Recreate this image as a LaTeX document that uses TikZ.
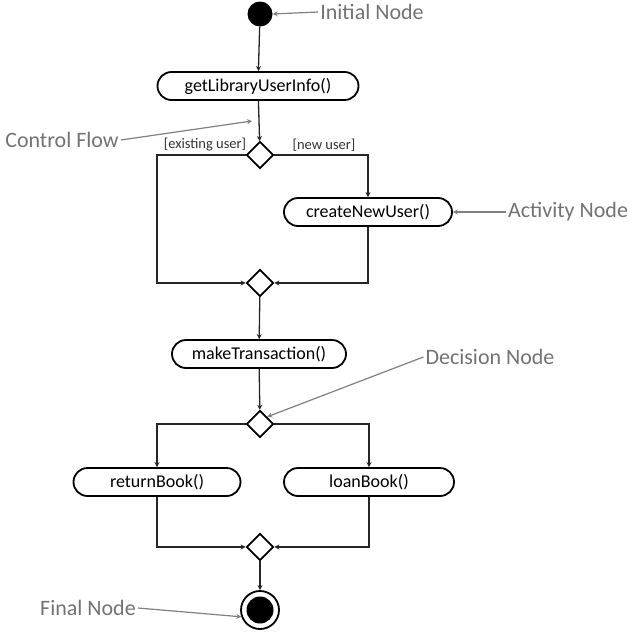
\documentclass[tikz,border=0pt]{standalone}
\usepackage{fontspec}
\setmainfont{Carlito}
\usetikzlibrary{shapes.geometric,shapes.misc,arrows.meta}
\begin{document}
\begin{tikzpicture}[x=1pt,y=-1pt,>={Stealth[length=5pt,width=5pt]},
		activity/.style={rounded rectangle,draw,line width=1.8pt,minimum height=28pt,inner sep=2pt,font=\fontsize{18}{18}\selectfont},
		decision/.style={diamond,draw,line width=1.8pt,minimum size=27pt,inner sep=0pt},
		flow/.style={->,line width=1.3pt,draw=black!85},
		guard/.style={font=\fontsize{14.5}{14.5}\selectfont,text=black!80,inner sep=1pt},
		note/.style={text=black!55,font=\fontsize{22}{22}\selectfont,inner sep=2pt},
		pointer/.style={->,line width=1.2pt,draw=black!50}]
	\useasboundingbox (0,0) rectangle (640,640);
	\fill[white] (0,0) rectangle (640,640);
	% nodes
	\node[circle,fill=black,minimum size=25pt,inner sep=0pt] (init) at (260,14) {};
	\node[activity,minimum width=205pt] (info) at (258,86) {getLibraryUserInfo()};
	\node[decision] (d1) at (260,155) {};
	\node[activity,minimum width=172pt] (create) at (368,212) {createNewUser()};
	\node[decision] (m1) at (260,283) {};
	\node[activity,minimum width=178pt] (trans) at (259,354) {makeTransaction()};
	\node[decision] (d2) at (260,424) {};
	\node[activity,minimum width=171pt] (ret) at (157,482) {returnBook()};
	\node[activity,minimum width=174pt] (loan) at (369,482) {loanBook()};
	\node[decision] (m2) at (260,547) {};
	\node[circle,draw,line width=1.8pt,minimum size=38pt,inner sep=0pt] (final) at (260,610) {};
	\node[circle,fill=black,minimum size=27pt,inner sep=0pt] (finalcore) at (final) {};
	% guards
	\node[guard] (gold) at (205,145) {[existing user]};
	\node[guard] (gnew) at (324,145) {[new user]};
	% control flows
	\draw[flow] (init) -- (info);
	\draw[flow] (info) -- (d1);
	\draw[flow] (d1.west) -- (d1.west -| ret) |- (m1.west);
	\draw[flow] (d1.east) -| (create.north);
	\draw[flow] (create.south) |- (m1.east);
	\draw[flow] (m1) -- (trans);
	\draw[flow] (trans) -- (d2);
	\draw[flow] (d2.west) -| (ret.north);
	\draw[flow] (d2.east) -| (loan.north);
	\draw[flow] (ret.south) |- (m2.west);
	\draw[flow] (loan.south) |- (m2.east);
	\draw[flow] (m2) -- (final);
	% annotations
	\node[note] (initlbl) at (372,12) {Initial Node};
	\node[note] (cflbl) at (62,140) {Control Flow};
	\coordinate (cfpt) at (252,121);
	\node[note] (actlbl) at (568,212) {Activity Node};
	\node[note] (declbl) at (490,357) {Decision Node};
	\node[note] (finlbl) at (88,608) {Final Node};
	\draw[pointer] (initlbl.west) -- (init.east);
	\draw[pointer] (cflbl.east) -- (cfpt);
	\draw[pointer] (actlbl.west) -- (create.east);
	\draw[pointer] (declbl.west) -- (d2.north east);
	\draw[pointer] (finlbl.east) -- (final.200);
\end{tikzpicture}
\end{document}
